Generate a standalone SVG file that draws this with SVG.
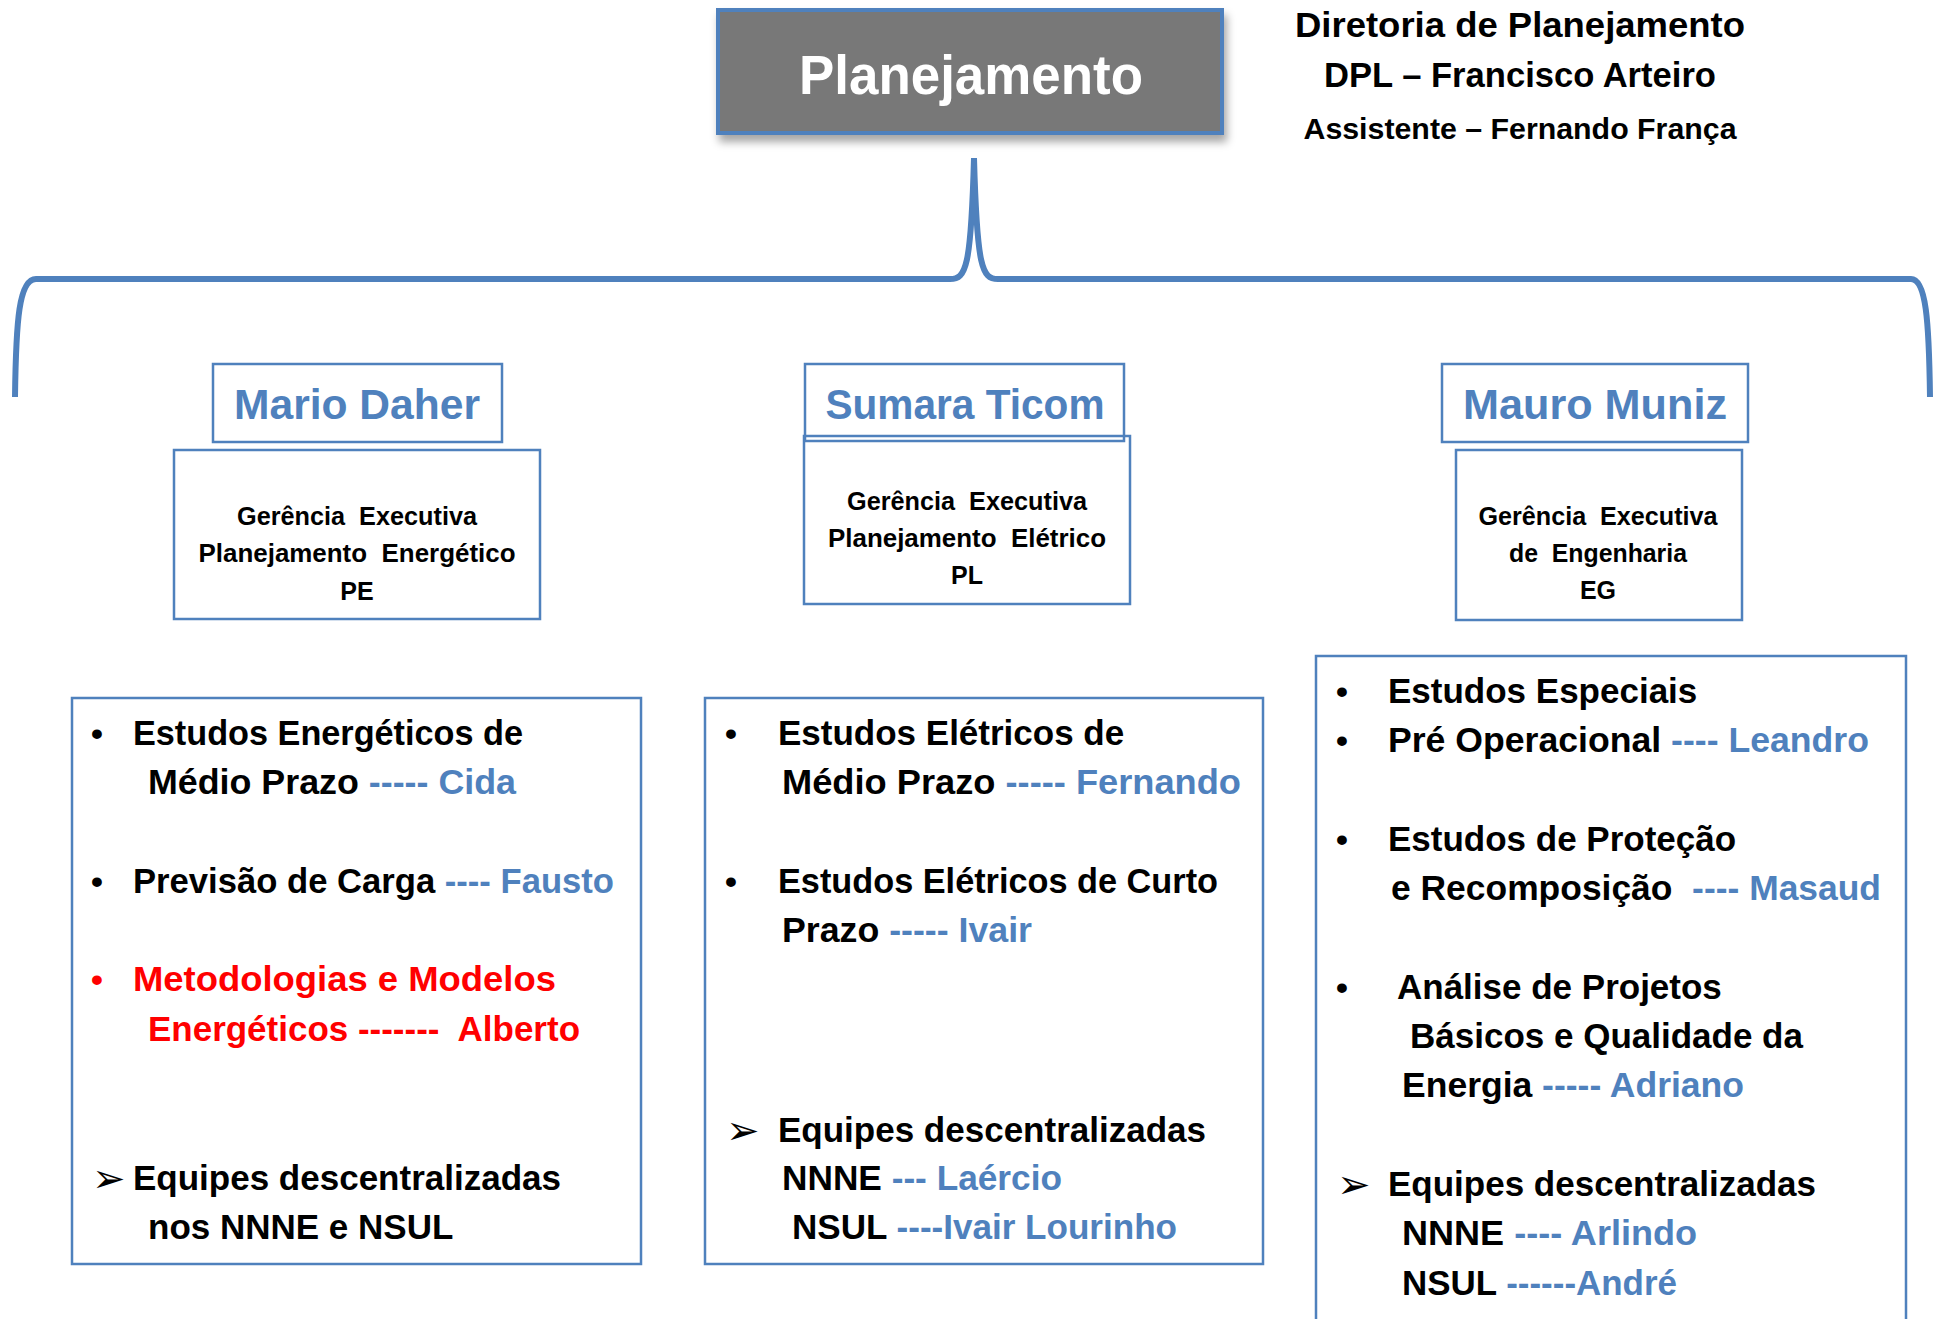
<svg xmlns="http://www.w3.org/2000/svg" width="1934" height="1319" viewBox="0 0 1934 1319">
<style>
text { font-family: "Liberation Sans", Arial, sans-serif; font-weight: bold; white-space: pre; }
.box { fill: none; stroke: #4f81bd; stroke-width: 2.5; }
.name { font-size: 42px; fill: #4f81bd; text-anchor: middle; }
.ge { font-size: 25px; fill: #000; text-anchor: middle; }
.lst { font-size: 35px; fill: #000; }
.blt { font-size: 34px; fill: #000; }
.arr { font-family: "DejaVu Sans", sans-serif; font-weight: normal; font-size: 40px; fill: #000; }
.b { fill: #4f81bd; }
.r { fill: #ff0000; }
.hdr { font-size: 35px; fill: #000; text-anchor: middle; }
</style>
<defs>
<filter id="sh" x="-10%" y="-10%" width="130%" height="140%">
<feDropShadow dx="3" dy="7" stdDeviation="4" flood-color="#000" flood-opacity="0.35"/>
</filter>
</defs>
<rect width="1934" height="1319" fill="#fff"/>

<g id="connectors">
<path d="M 15 397 C 16 320 19 279 36 279 L 950 279 C 966 279 971 268 974 158 C 977 268 982 279 998 279 L 1911 279 C 1926 279 1929 320 1930 397" fill="none" stroke="#4f81bd" stroke-width="6"/>
</g>

<g id="planejamento">
<rect x="718" y="10" width="504" height="123" fill="#787878" stroke="#4f81bd" stroke-width="4" filter="url(#sh)"/>
<text x="971" y="94" font-size="56" fill="#fff" text-anchor="middle" textLength="344" lengthAdjust="spacingAndGlyphs">Planejamento</text>
</g>

<g id="diretoria">
<text class="hdr" x="1520" y="37" textLength="450" lengthAdjust="spacingAndGlyphs">Diretoria de Planejamento</text>
<text class="hdr" x="1520" y="87" textLength="392" lengthAdjust="spacingAndGlyphs">DPL – Francisco Arteiro</text>
<text class="hdr" x="1520" y="139" style="font-size:30px" textLength="433" lengthAdjust="spacingAndGlyphs">Assistente – Fernando França</text>
</g>

<g id="mario">
<rect class="box" x="213" y="364" width="289" height="78"/>
<text class="name" x="357" y="419" textLength="246" lengthAdjust="spacingAndGlyphs">Mario Daher</text>
</g>
<g id="ge-pe">
<rect class="box" x="174" y="450" width="366" height="169"/>
<text class="ge" x="357" y="525" textLength="240" lengthAdjust="spacingAndGlyphs">Gerência  Executiva</text>
<text class="ge" x="357" y="562" textLength="317" lengthAdjust="spacingAndGlyphs">Planejamento  Energético</text>
<text class="ge" x="357" y="600">PE</text>
</g>

<g id="sumara">
<rect class="box" x="805" y="364" width="319" height="77"/>
<text class="name" x="965" y="419" textLength="279" lengthAdjust="spacingAndGlyphs">Sumara Ticom</text>
</g>
<g id="ge-pl">
<rect class="box" x="804" y="436" width="326" height="168"/>
<text class="ge" x="967" y="510" textLength="240" lengthAdjust="spacingAndGlyphs">Gerência  Executiva</text>
<text class="ge" x="967" y="547" textLength="278" lengthAdjust="spacingAndGlyphs">Planejamento  Elétrico</text>
<text class="ge" x="967" y="584">PL</text>
</g>

<g id="mauro">
<rect class="box" x="1442" y="364" width="306" height="78"/>
<text class="name" x="1595" y="419" textLength="264" lengthAdjust="spacingAndGlyphs">Mauro Muniz</text>
</g>
<g id="ge-eg">
<rect class="box" x="1456" y="450" width="286" height="170"/>
<text class="ge" x="1598" y="525" textLength="239" lengthAdjust="spacingAndGlyphs">Gerência  Executiva</text>
<text class="ge" x="1598" y="562" textLength="178" lengthAdjust="spacingAndGlyphs">de  Engenharia</text>
<text class="ge" x="1598" y="599">EG</text>
</g>

<g id="lista-pe">
<rect class="box" x="72" y="698" width="569" height="566"/>
<text class="blt" x="91" y="745">•</text>
<text class="lst" x="133" y="745" textLength="390" lengthAdjust="spacingAndGlyphs">Estudos Energéticos de</text>
<text class="lst" x="148" y="794" textLength="368" lengthAdjust="spacingAndGlyphs">Médio Prazo <tspan class="b">----- Cida</tspan></text>
<text class="blt" x="91" y="893">•</text>
<text class="lst" x="133" y="893" textLength="481" lengthAdjust="spacingAndGlyphs">Previsão de Carga <tspan class="b">---- Fausto</tspan></text>
<text class="blt r" x="91" y="991">•</text>
<text class="lst r" x="133" y="991" textLength="423" lengthAdjust="spacingAndGlyphs">Metodologias e Modelos</text>
<text class="lst r" x="148" y="1041" textLength="432" lengthAdjust="spacingAndGlyphs">Energéticos -------  Alberto</text>
<text class="arr" x="92" y="1192">➢</text>
<text class="lst" x="133" y="1190">Equipes descentralizadas</text>
<text class="lst" x="148" y="1239">nos NNNE e NSUL</text>
</g>

<g id="lista-pl">
<rect class="box" x="705" y="698" width="558" height="566"/>
<text class="blt" x="725" y="745">•</text>
<text class="lst" x="778" y="745">Estudos Elétricos de</text>
<text class="lst" x="782" y="794" textLength="459" lengthAdjust="spacingAndGlyphs">Médio Prazo <tspan class="b">----- Fernando</tspan></text>
<text class="blt" x="725" y="893">•</text>
<text class="lst" x="778" y="893" textLength="440" lengthAdjust="spacingAndGlyphs">Estudos Elétricos de Curto</text>
<text class="lst" x="782" y="942" textLength="250" lengthAdjust="spacingAndGlyphs">Prazo <tspan class="b">----- Ivair</tspan></text>
<text class="arr" x="726" y="1144">➢</text>
<text class="lst" x="778" y="1142">Equipes descentralizadas</text>
<text class="lst" x="782" y="1190" textLength="280" lengthAdjust="spacingAndGlyphs">NNNE <tspan class="b">--- Laércio</tspan></text>
<text class="lst" x="792" y="1239" textLength="385" lengthAdjust="spacingAndGlyphs">NSUL <tspan class="b">----Ivair Lourinho</tspan></text>
</g>

<g id="lista-eg">
<rect class="box" x="1316" y="656" width="590" height="700"/>
<text class="blt" x="1336" y="703">•</text>
<text class="lst" x="1388" y="703">Estudos Especiais</text>
<text class="blt" x="1336" y="752">•</text>
<text class="lst" x="1388" y="752" textLength="481" lengthAdjust="spacingAndGlyphs">Pré Operacional <tspan class="b">---- Leandro</tspan></text>
<text class="blt" x="1336" y="851">•</text>
<text class="lst" x="1388" y="851">Estudos de Proteção</text>
<text class="lst" x="1391" y="900" textLength="490" lengthAdjust="spacingAndGlyphs">e Recomposição  <tspan class="b">---- Masaud</tspan></text>
<text class="blt" x="1336" y="999">•</text>
<text class="lst" x="1397" y="999">Análise de Projetos</text>
<text class="lst" x="1410" y="1048">Básicos e Qualidade da</text>
<text class="lst" x="1402" y="1097" textLength="342" lengthAdjust="spacingAndGlyphs">Energia <tspan class="b">----- Adriano</tspan></text>
<text class="arr" x="1337" y="1198">➢</text>
<text class="lst" x="1388" y="1196">Equipes descentralizadas</text>
<text class="lst" x="1402" y="1245" textLength="295" lengthAdjust="spacingAndGlyphs">NNNE <tspan class="b">---- Arlindo</tspan></text>
<text class="lst" x="1402" y="1295" textLength="275" lengthAdjust="spacingAndGlyphs">NSUL <tspan class="b">------André</tspan></text>
</g>
</svg>
